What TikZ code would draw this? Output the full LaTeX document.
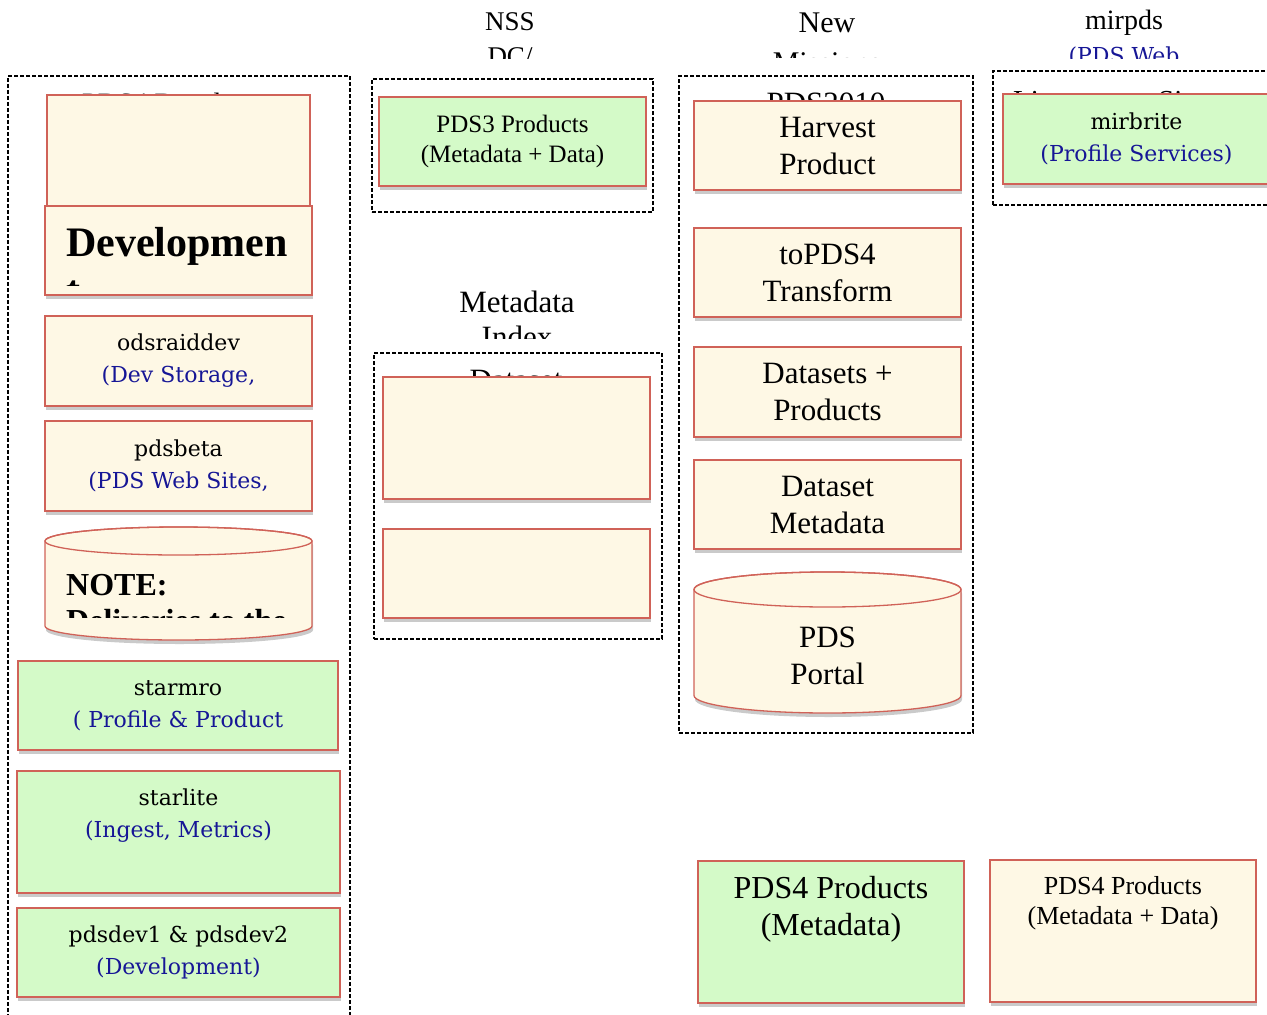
\documentclass[tikz,border=0pt]{standalone}
\usepackage{fontspec}
\setmainfont{Liberation Serif}
\newfontfamily\camb{DejaVu Serif}
\usetikzlibrary{shadows,positioning}
\definecolor{boxred}{RGB}{208,98,88}
\definecolor{cream}{RGB}{254,248,229}
\definecolor{mint}{RGB}{212,250,200}
\definecolor{navy}{RGB}{22,22,150}

\begin{document}
\begin{tikzpicture}[x=1pt,y=-1pt,
    grp/.style={draw, dash pattern=on 4pt off 2pt, line width=1.1pt, inner sep=0},
    cbox/.style={draw=boxred, line width=1.3pt, fill=cream, inner sep=0,
      drop shadow={shadow xshift=1pt, shadow yshift=-4pt, opacity=.35, fill=black!60}},
    gbox/.style={cbox, fill=mint},
    ttl/.style={font=\fontsize{30}{36}\selectfont, anchor=base, inner sep=0},
    tms/.style={align=center, font=\fontsize{31}{37}\selectfont},
    cmb/.style={align=center, font=\camb\fontsize{22}{32}\selectfont}]
  \path[use as bounding box, clip] (0,0) rectangle (1267,1015);

  % column titles
  \begin{scope}
    \clip (380,0) rectangle (640,58);
    \node[ttl, font=\fontsize{27}{32}\selectfont] (nssA) at (510,30) {NSS};
    \node[ttl, font=\fontsize{27}{32}\selectfont] (nssB) at (510,65) {DC/};
  \end{scope}
  \begin{scope}
    \clip (700,0) rectangle (960,57);
    \node[ttl] (newA) at (827,32) {New};
    \node[ttl] (newB) at (827,72) {Missions};
  \end{scope}
  \begin{scope}
    \clip (1000,0) rectangle (1267,58);
    \node[ttl, font=\fontsize{28}{32}\selectfont] (mirA) at (1124,29) {mirpds};
    \node[ttl, font=\camb\fontsize{22}{32}\selectfont, text=navy] (mirB) at (1124,63) {(PDS Web};
  \end{scope}
  \begin{scope}
    \clip (400,280) rectangle (640,338);
    \node[ttl, font=\fontsize{31}{36}\selectfont] (mdA) at (517,312) {Metadata};
    \node[ttl, font=\fontsize{31}{36}\selectfont] (mdB) at (517,347) {Index};
  \end{scope}

  % dashed groups
  \node[grp, minimum width=342, minimum height=964] (devsites) at (179,558) {};
  \node[grp, minimum width=281, minimum height=133] (nssdc) at (512.5,145.5) {};
  \node[grp, minimum width=288, minimum height=286] (mdindex) at (518,496) {};
  \node[grp, minimum width=294, minimum height=657] (pdsten) at (826,404.5) {};
  \node[grp, minimum width=297, minimum height=134] (livesites) at (1141.5,138) {};

  % group titles (mostly hidden)
  \node[ttl, anchor=base west, font=\fontsize{28}{34}\selectfont] (devttl) at (82,112) {PDS4 Development};
  \node[ttl, font=\fontsize{31}{36}\selectfont] (pdsttl) at (826,113) {PDS2010};
  \node[ttl, font=\fontsize{31}{36}\selectfont] (dsttl) at (516,390) {Dataset};
  \node[ttl, anchor=base west, font=\fontsize{29}{34}\selectfont] (liveA) at (1013,110) {Live};
  \node[ttl, anchor=base west, font=\fontsize{29}{34}\selectfont] (liveB) at (1158,110) {Sites};

  % left column
  \node[cbox, minimum width=263, minimum height=111] (devtop) at (178.5,150.5) {};
  \node[cbox, minimum width=267, minimum height=89] (devbox) at (178.5,250.5) {};
  \begin{scope}
    \clip (45,206) rectangle (312,285);
    \node[ttl, anchor=base west, font=\bfseries\fontsize{42}{48}\selectfont] (devA) at (66,256) {Developmen};
    \node[ttl, anchor=base west, font=\bfseries\fontsize{42}{48}\selectfont] (devB) at (66,304) {t};
  \end{scope}
  \node[cbox, cmb, minimum width=267, minimum height=90] (odsraid) at (178.5,361)
    {odsraiddev\\\textcolor{navy}{(Dev Storage,}};
  \node[cbox, cmb, minimum width=267, minimum height=90] (pdsbeta) at (178.5,466)
    {pdsbeta\\\textcolor{navy}{(PDS Web Sites,}};
  \filldraw[draw=boxred, line width=1.3pt, fill=cream,
      drop shadow={shadow xshift=1pt, shadow yshift=-4pt, opacity=.35, fill=black!60}]
    (45,541) -- (45,626) arc[start angle=180, end angle=360, x radius=133.5pt, y radius=14pt]
    -- (312,541) arc[start angle=0, end angle=180, x radius=133.5pt, y radius=14pt] -- cycle;
  \draw[boxred, line width=1.3pt] (178.5,541) ellipse[x radius=133.5pt, y radius=14pt];
  \node[ttl, anchor=base west, font=\bfseries\fontsize{32}{36}\selectfont] (noteA) at (66,595) {NOTE:};
  \begin{scope}
    \clip (45,600) rectangle (312,617);
    \node[ttl, anchor=base west, font=\bfseries\fontsize{32}{36}\selectfont] (noteB) at (66,631) {Deliveries to the};
  \end{scope}
  \node[gbox, cmb, minimum width=320, minimum height=89] (starmro) at (178,705.5)
    {starmro\\\textcolor{navy}{( Profile \& Product}};
  \node[gbox, minimum width=323, minimum height=122] (starlite) at (178.5,832) {};
  \node[cmb, anchor=north, inner sep=0, below=18pt of starlite.north] (starlitetxt)
    {starlite\\\textcolor{navy}{(Ingest, Metrics)}};
  \node[gbox, cmb, minimum width=323, minimum height=89] (pdsdev) at (178.5,952.5)
    {pdsdev1 \& pdsdev2\\\textcolor{navy}{(Development)}};

  % middle column
  \node[gbox, align=center, font=\fontsize{25}{30}\selectfont, minimum width=267, minimum height=89]
    (pdsthree) at (512.5,141.5) {PDS3 Products\\(Metadata + Data)};
  \node[cbox, minimum width=267, minimum height=122] (mdataA) at (516.5,438) {};
  \node[cbox, minimum width=267, minimum height=89] (mdataB) at (516.5,573.5) {};

  % PDS2010 column
  \node[cbox, tms, minimum width=267, minimum height=89] (harvest) at (827.5,145.5) {Harvest\\Product};
  \node[cbox, tms, minimum width=267, minimum height=89] (topdsfour) at (827.5,272.5) {toPDS4\\Transform};
  \node[cbox, tms, minimum width=267, minimum height=90] (datasets) at (827.5,392) {Datasets +\\Products};
  \node[cbox, tms, minimum width=267, minimum height=89] (dsmeta) at (827.5,504.5) {Dataset\\Metadata};
  \filldraw[draw=boxred, line width=1.3pt, fill=cream,
      drop shadow={shadow xshift=1pt, shadow yshift=-4pt, opacity=.35, fill=black!60}]
    (694,589.5) -- (694,695.5) arc[start angle=180, end angle=360, x radius=133.5pt, y radius=17.5pt]
    -- (961,589.5) arc[start angle=0, end angle=180, x radius=133.5pt, y radius=17.5pt] -- cycle;
  \draw[boxred, line width=1.3pt] (827.5,589.5) ellipse[x radius=133.5pt, y radius=17.5pt];
  \node[tms] (portal) at (827.5,656) {PDS\\Portal};

  % products
  \node[gbox, minimum width=266, minimum height=142] (pdsfourmeta) at (831,932) {};
  \node[align=center, font=\fontsize{32}{37}\selectfont, anchor=north, inner sep=0,
    below=16pt of pdsfourmeta.north] (pdsfourmetatxt) {PDS4 Products\\(Metadata)};
  \node[cbox, minimum width=266, minimum height=142] (pdsfourfull) at (1123,931) {};
  \node[align=center, font=\fontsize{26}{30}\selectfont, anchor=north, inner sep=0,
    below=17pt of pdsfourfull.north] (pdsfourfulltxt) {PDS4 Products\\(Metadata + Data)};

  % right column
  \node[gbox, cmb, minimum width=267, minimum height=90] (mirbrite) at (1136.5,139)
    {mirbrite\\\textcolor{navy}{(Profile Services)}};
\end{tikzpicture}
\end{document}
